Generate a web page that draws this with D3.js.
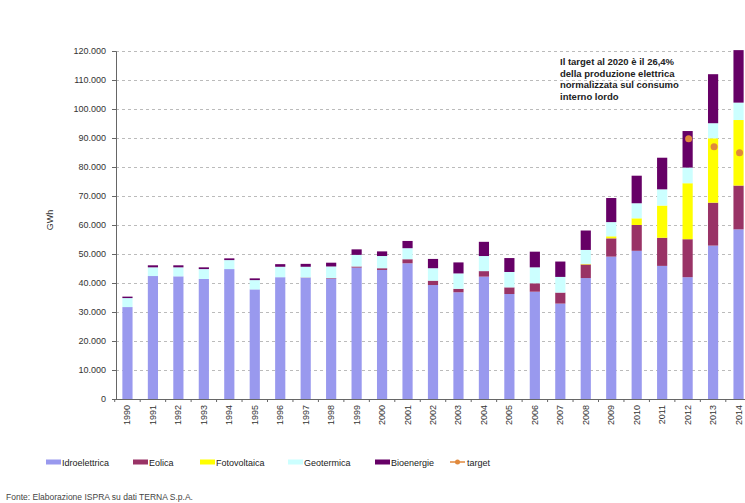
<!DOCTYPE html>
<html>
<head>
<meta charset="utf-8">
<script src="https://cdn.jsdelivr.net/npm/d3@7/dist/d3.min.js"></script>
<style>
body { margin: 0; background: #fff; }
svg { display: block; font-family: "Liberation Sans", Arial, sans-serif; }
.axis text { font-size: 9px; fill: #333; }
.axis path, .axis line { stroke: #666; }
</style>
</head>
<body>
<svg id="chart" width="745" height="503"></svg>
<script>
var years = ["1990","1991","1992","1993","1994","1995","1996","1997","1998","1999","2000","2001","2002",
             "2003","2004","2005","2006","2007","2008","2009","2010","2011","2012","2013","2014"];
// GWh
var idro = [31700,42400,42300,41400,44800,37800,42000,41800,41500,45300,44500,46800,39300,
            36800,42200,36200,37000,32900,41700,49100,51100,45900,42000,52900,58500];
var eolica = [0,0,0,0,0,0,0,100,200,400,600,1400,1500,
              1200,1900,2300,2900,3800,4700,6300,8900,9700,13100,14800,15100];
var fotovoltaica = [0,0,0,0,0,0,0,0,0,0,0,0,0,
                    0,0,0,0,0,200,700,2300,11100,19300,22200,22600];
var geotermica = [3100,3000,3100,3400,3100,3200,3600,3700,4000,4000,4200,3800,4300,
                  5300,5200,5300,5500,5400,4800,4900,5200,5600,5400,5200,6000];
var bioenergie = [500,700,700,600,600,600,900,1000,1300,1900,1600,2500,3200,
                  3800,4900,4800,5400,5300,6700,8300,9500,10900,12600,16900,18100];
var target = [null,null,null,null,null,null,null,null,null,null,null,null,null,
              null,null,null,null,null,null,null,null,null,89700,87000,84900];
var yTicks = [0,10000,20000,30000,40000,50000,60000,70000,80000,90000,100000,110000,120000];

var seriesNames = ["Idroelettrica","Eolica","Fotovoltaica","Geotermica","Bioenergie"];
var colors = {Idroelettrica:"#9999ee", Eolica:"#993366", Fotovoltaica:"#ffff00",
              Geotermica:"#ccffff", Bioenergie:"#660066"};
var targetColor = "#e0893c";

var table = years.map(function(y, i) {
    return {year: y, Idroelettrica: idro[i], Eolica: eolica[i], Fotovoltaica: fotovoltaica[i],
            Geotermica: geotermica[i], Bioenergie: bioenergie[i], target: target[i]};
});

var svg = d3.select("#chart");
var plotLeft = 116, plotRight = 750, plotTop = 51, plotBottom = 399;

var it = d3.formatLocale({decimal: ",", thousands: ".", grouping: [3], currency: ["", "€"]});
var fmt = it.format(",");

var x = d3.scaleBand().domain(years).range([plotLeft, plotRight]).paddingInner(0.6).paddingOuter(0.25);
var y = d3.scaleLinear().domain([0, 120000]).range([plotBottom, plotTop]);

// grid
svg.append("g").selectAll("line")
    .data(yTicks.slice(1))
  .enter().append("line")
    .attr("x1", plotLeft).attr("x2", 745)
    .attr("y1", function(d) { return y(d) + 0.5; })
    .attr("y2", function(d) { return y(d) + 0.5; })
    .attr("stroke", "#bbb")
    .attr("stroke-dasharray", "3,3");

var stack = d3.stack().keys(seriesNames)(table);

svg.append("g").selectAll("g")
    .data(stack)
  .enter().append("g")
    .attr("fill", function(d) { return colors[d.key]; })
  .selectAll("rect")
    .data(function(d) { return d; })
  .enter().append("rect")
    .attr("x", function(d) { return x(d.data.year); })
    .attr("width", x.bandwidth())
    .attr("y", function(d) { return y(d[1]); })
    .attr("height", function(d) { return y(d[0]) - y(d[1]); });

// target points
svg.append("g").selectAll("circle")
    .data(table.filter(function(d) { return d.target != null; }))
  .enter().append("circle")
    .attr("cx", function(d) { return x(d.year) + x.bandwidth() / 2 + 1; })
    .attr("cy", function(d) { return y(d.target); })
    .attr("r", 3.5)
    .attr("fill", targetColor);

// y axis
svg.append("g")
    .attr("class", "axis")
    .attr("transform", "translate(" + plotLeft + ",0)")
    .call(d3.axisLeft(y).tickValues(yTicks).tickFormat(fmt).tickSizeOuter(0).tickSize(4).tickPadding(6));

// x axis
var xAxis = svg.append("g")
    .attr("class", "axis")
    .attr("transform", "translate(0," + plotBottom + ")")
    .call(d3.axisBottom(x).tickSize(0).tickSizeOuter(0));
xAxis.select(".domain").attr("d", "M" + plotLeft + ",0.5H745");
xAxis.selectAll("text")
    .attr("transform", "rotate(-90)")
    .attr("text-anchor", "end")
    .attr("dx", "-6px")
    .attr("dy", "3px")
    .attr("x", 0).attr("y", 0);

// small ticks between bars
svg.append("g").selectAll("line")
    .data(years)
  .enter().append("line")
    .attr("x1", function(d) { return x(d) - x.step() * 0.3; })
    .attr("x2", function(d) { return x(d) - x.step() * 0.3; })
    .attr("y1", plotBottom).attr("y2", plotBottom + 3)
    .attr("stroke", "#666");

// y label
svg.append("text")
    .attr("transform", "translate(53,220) rotate(-90)")
    .attr("text-anchor", "middle")
    .style("font-size", "9px")
    .attr("fill", "#333")
    .text("GWh");

// note
var note = ["Il target al 2020 è il 26,4%", "della produzione elettrica",
            "normalizzata sul consumo", "interno lordo"];
svg.append("g").selectAll("text")
    .data(note)
  .enter().append("text")
    .attr("x", 560)
    .attr("y", function(d, i) { return 65 + i * 11.5; })
    .style("font-size", "9.5px")
    .style("font-weight", "bold")
    .attr("fill", "#222")
    .text(function(d) { return d; });

// legend
var legendX = [46, 133, 200, 288, 375];
var lg = svg.append("g").selectAll("g")
    .data(seriesNames)
  .enter().append("g")
    .attr("transform", function(d, i) { return "translate(" + legendX[i] + ",462)"; });
lg.append("rect")
    .attr("x", 0).attr("y", -2.5).attr("width", 15).attr("height", 5)
    .attr("fill", function(d) { return colors[d]; });
lg.append("text")
    .attr("x", 16).attr("y", 3.5)
    .style("font-size", "9px")
    .attr("fill", "#222")
    .text(function(d) { return d; });

var tg = svg.append("g").attr("transform", "translate(450,462)");
tg.append("line").attr("x1", 0).attr("x2", 15).attr("y1", 0).attr("y2", 0)
    .attr("stroke", targetColor).attr("stroke-width", 1.5);
tg.append("circle").attr("cx", 7.5).attr("cy", 0).attr("r", 2.5).attr("fill", targetColor);
tg.append("text").attr("x", 17).attr("y", 3.5)
    .style("font-size", "9px").attr("fill", "#222").text("target");

// source
svg.append("text")
    .attr("x", 6).attr("y", 500)
    .style("font-size", "8.5px")
    .attr("fill", "#444")
    .text("Fonte: Elaborazione ISPRA su dati TERNA S.p.A.");
</script>
</body>
</html>
